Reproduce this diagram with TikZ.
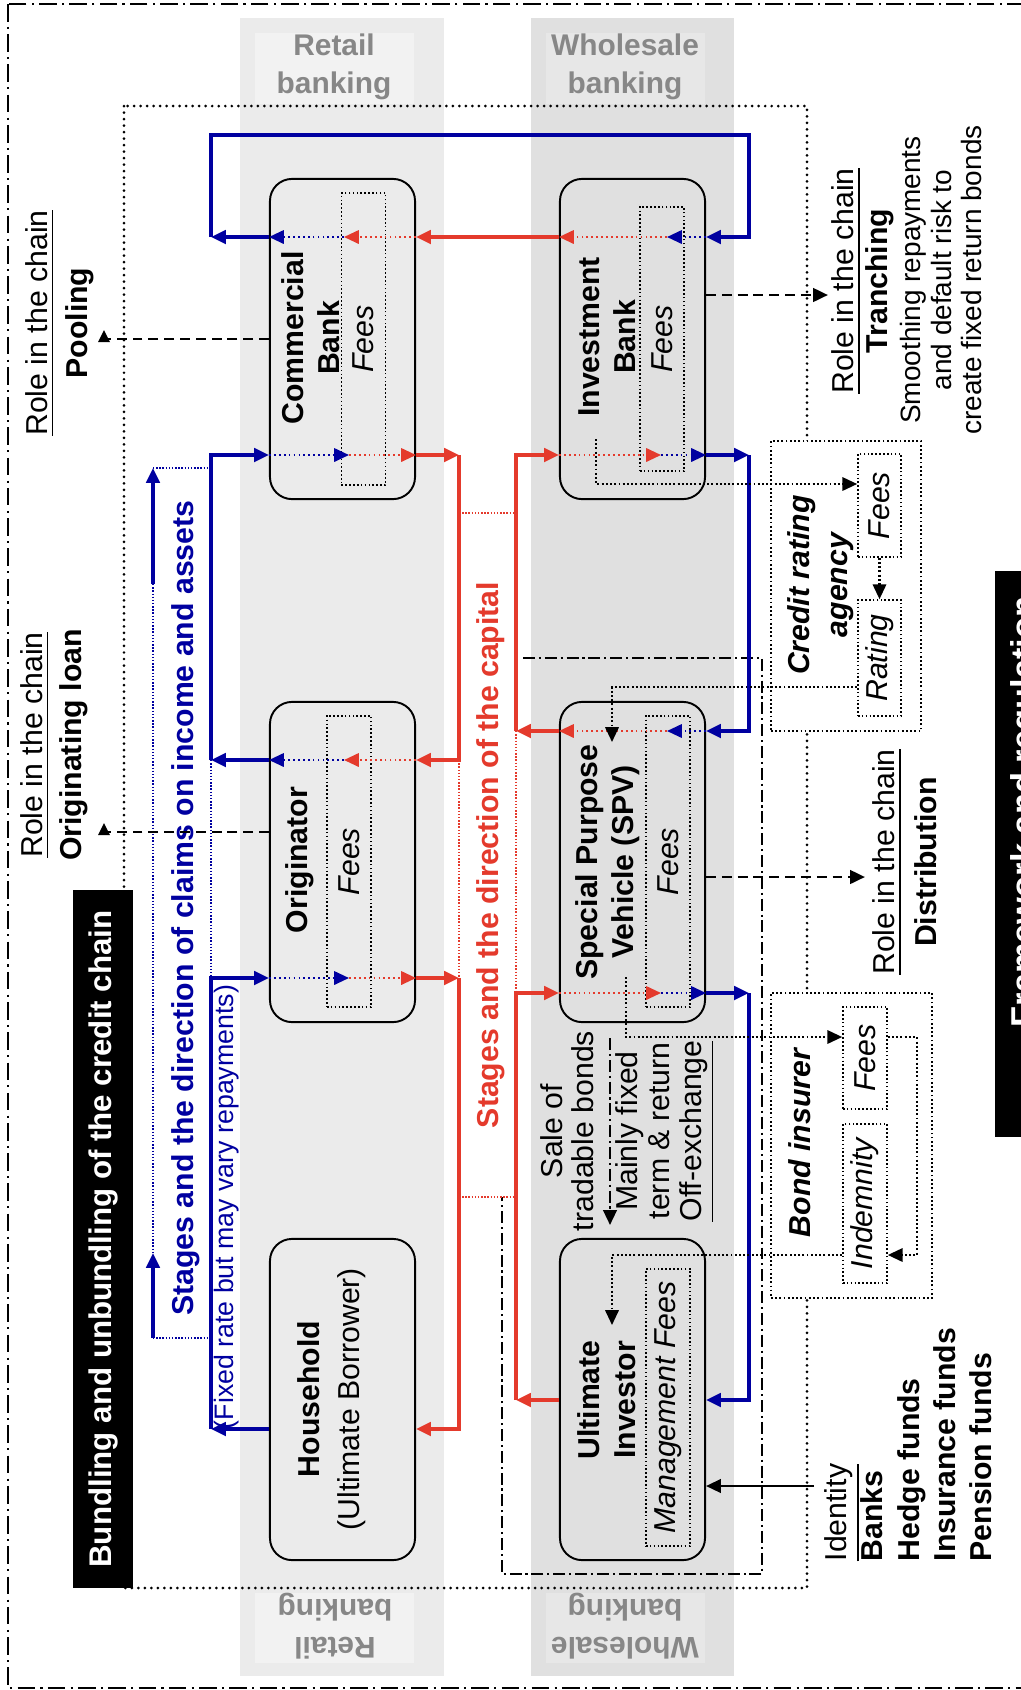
\documentclass[tikz,border=0pt]{standalone}
\usepackage{fontspec}
\setmainfont{Liberation Sans}
\usepackage{graphicx}
\usetikzlibrary{arrows.meta,calc}

\definecolor{capblue}{RGB}{0,0,160}
\definecolor{capred}{RGB}{228,58,44}
\definecolor{retailgray}{RGB}{235,235,235}
\definecolor{wholegray}{RGB}{224,224,224}
\definecolor{retaillab}{RGB}{242,242,242}
\definecolor{wholelab}{RGB}{231,231,231}
\definecolor{labtext}{RGB}{135,135,135}

\newcommand{\chainfont}{\fontsize{8.6}{10.2}\selectfont}

\tikzset{
  flowtip/.style={-{Triangle[length=4.2pt,width=3.8pt]}},
  bthick/.style={capblue, line width=1pt, flowtip},
  rthick/.style={capred, line width=1pt, flowtip},
  bdots/.style={capblue, line width=0.6pt, dash pattern=on 0.5pt off 0.9pt, flowtip},
  rdots/.style={capred, line width=0.6pt, dash pattern=on 0.5pt off 0.9pt, flowtip},
  bfine/.style={capblue, line width=0.4pt, dash pattern=on 0.4pt off 0.5pt},
  rfine/.style={capred, line width=0.4pt, dash pattern=on 0.4pt off 0.5pt},
  kdots/.style={line width=0.6pt, dash pattern=on 0.55pt off 0.65pt},
  roledash/.style={line width=0.8pt, dash pattern=on 2.8pt off 1.7pt},
  kdashdot/.style={line width=0.7pt, dash pattern=on 3.4pt off 1.1pt on 0.6pt off 1.1pt},
  bankbox/.style={draw, line width=0.55pt, rounded corners=0.22cm, minimum width=1.45cm, minimum height=3.2cm, inner sep=0pt},
  feebox/.style={draw, line width=0.45pt, dash pattern=on 0.45pt off 0.65pt, inner sep=0pt, minimum width=0.44cm, font=\chainfont\itshape},
  sidebox/.style={draw, fill=white, line width=0.5pt, dash pattern=on 0.5pt off 0.7pt, inner sep=0pt},
  rottext/.style={rotate=90, align=center, inner sep=0pt, font=\chainfont},
  lanelabel/.style={align=center, inner sep=0pt, text=labtext, font=\fontsize{8.5}{10.8}\selectfont\bfseries},
}

\begin{document}
\begin{tikzpicture}[x=0.01cm, y=-0.01cm]
    \useasboundingbox (0,0) rectangle (1021,1690);

    % 银行条带
    \fill[retailgray] (240,18) rectangle (444,1676);
    \fill[wholegray] (531,18) rectangle (734,1676);
    \fill[retaillab] (255,33) rectangle (414,104);
    \fill[wholelab] (546,33) rectangle (705,104);
    \fill[retaillab] (255,1593) rectangle (414,1663);
    \fill[wholelab] (546,1593) rectangle (705,1663);
    \node[lanelabel] (rtop) at (334,67) {Retail\\banking};
    \node[lanelabel] (wtop) at (625,67) {Wholesale\\banking};
    \node[lanelabel, rotate=180] (rbot) at (335,1626) {Retail\\banking};
    \node[lanelabel, rotate=180] (wbot) at (625,1626) {Wholesale\\banking};

    % 外框
    \draw[line width=0.5pt, dash pattern=on 5pt off 1.5pt on 0.6pt off 1.5pt] (8,4) rectangle (1040,1688);
    \draw[line width=0.85pt, line cap=round, dash pattern=on 0pt off 1.85pt] (124,106) rectangle (807,1588);

    % 黑色标题框
    \node[fill=black, rotate=90, minimum width=6.98cm, minimum height=0.6cm, inner sep=0pt, text=white,
          font=\fontsize{8.9}{10}\selectfont\bfseries] (bund) at (103,1239) {Bundling and unbundling of the credit chain};
    \fill (995,571) rectangle (1040,1137);
    \node[rottext, anchor=north, text=white, font=\fontsize{9.8}{12}\selectfont\bfseries] (regt) at (1010,812) {Framework and regulation};

    % 点划线框
    \draw[kdashdot] (523,658) -- (762,658) -- (762,1574) -- (502,1574) -- (502,1197);

    % 评级机构与债券保险
    \node[sidebox, minimum width=1.5cm, minimum height=2.9cm] (cra) at (846,586) {};
    \node[rottext, font=\fontsize{8.6}{10.8}\selectfont\bfseries\itshape] (crat) at (821,585) {Credit rating\\agency};
    \node[feebox, minimum width=0.43cm, minimum height=1.03cm] (craF) at (879.5,505.5) {\rotatebox{90}{Fees}};
    \node[feebox, minimum width=0.43cm, minimum height=1.16cm] (craR) at (879.5,658) {\rotatebox{90}{Rating}};
    \node[sidebox, minimum width=1.61cm, minimum height=3.05cm] (bi) at (851.5,1145.5) {};
    \node[rottext, font=\chainfont\bfseries\itshape] (bit) at (800,1143) {Bond insurer};
    \node[feebox, minimum height=1.02cm] (biF) at (865,1058) {\rotatebox{90}{Fees}};
    \node[feebox, minimum height=1.59cm] (biI) at (865,1203.5) {\rotatebox{90}{Indemnity}};

    % 机构框
    \node[bankbox] (cb) at (342.5,339) {};
    \node[bankbox] (ib) at (632.5,339) {};
    \node[bankbox] (orig) at (342.5,862) {};
    \node[bankbox] (spv) at (632.5,862) {};
    \node[bankbox, minimum height=3.21cm] (hh) at (342.5,1399.5) {};
    \node[bankbox, minimum height=3.21cm] (ui) at (632.5,1399.5) {};
    \node[feebox, minimum height=2.92cm] (cbF) at (363.5,339) {\rotatebox{90}{Fees}};
    \node[feebox, minimum height=2.64cm] (ibF) at (662,339) {\rotatebox{90}{Fees}};
    \node[feebox, minimum height=2.91cm] (orF) at (349,861.5) {\rotatebox{90}{Fees}};
    \node[feebox, minimum height=2.91cm] (spF) at (668,861.5) {\rotatebox{90}{Fees}};
    \node[feebox, minimum height=2.77cm] (uiF) at (668,1407.5) {\rotatebox{90}{Management Fees}};
    \node[rottext, font=\chainfont\bfseries] (cbt) at (311,338) {Commercial\\Bank};
    \node[rottext, font=\chainfont\bfseries] (ibt) at (607,337) {Investment\\Bank};
    \node[rottext, font=\chainfont\bfseries] (ort) at (300,860) {Originator};
    \node[rottext, font=\chainfont\bfseries] (spt) at (608,862) {Special Purpose\\Vehicle (SPV)};
    \node[rottext, font=\fontsize{8.6}{11.4}\selectfont] (hht) at (332,1399) {\textbf{Household}\\(Ultimate Borrower)};
    \node[rottext, font=\chainfont\bfseries] (uit) at (607,1400) {Ultimate\\Investor};

    % 轨道拐点
    \coordinate (bL1) at (211,135);  \coordinate (bR1) at (749,135);
    \coordinate (bL2) at (211,237);  \coordinate (bR2) at (749,237);
    \coordinate (bL3) at (211,455);  \coordinate (bR3) at (749,455);
    \coordinate (bL4) at (211,760);  \coordinate (bR4) at (749,731);
    \coordinate (bL5) at (211,978);  \coordinate (bR5) at (749,993);
    \coordinate (bL6) at (211,1429); \coordinate (bR6) at (749,1400);
    \coordinate (rA1) at (459,455);  \coordinate (rB1) at (516,455);
    \coordinate (rA2) at (459,760);  \coordinate (rB2) at (516,731);
    \coordinate (rA3) at (459,978);  \coordinate (rB3) at (516,993);
    \coordinate (rA4) at (459,1429); \coordinate (rB4) at (516,1400);

    % 蓝色: 收入与资产索取权
    \draw[bthick] (cb.west |- bL2) -- (bL2);
    \draw[bthick] (bL2) -- (bL1) -- (bR1) -- (bR2) -- (ib.east |- bR2);
    \draw[bthick] (orig.west |- bL4) -- (bL4);
    \draw[bthick] (bL4) -- (bL3) -- (cb.west |- bL3);
    \draw[bthick] (hh.west |- bL6) -- (bL6);
    \draw[bthick] (bL6) -- (bL5) -- (orig.west |- bL5);
    \draw[bthick] (ib.east |- bR3) -- (bR3);
    \draw[bthick] (bR3) -- (bR4) -- (spv.east |- bR4);
    \draw[bthick] (spv.east |- bR5) -- (bR5);
    \draw[bthick] (bR5) -- (bR6) -- (ui.east |- bR6);
    \draw[bfine] (bL4) -- (bL5);

    % 红色: 资本方向
    \draw[rthick] (ib.west |- bR2) -- (cb.east |- bR2);
    \draw[rthick] (cb.east |- rA1) -- (rA1);
    \draw[rthick] (rA1) -- (rA2) -- (orig.east |- rA2);
    \draw[rthick] (orig.east |- rA3) -- (rA3);
    \draw[rthick] (rA3) -- (rA4) -- (hh.east |- rA4);
    \draw[rthick] (spv.west |- rB2) -- (rB2);
    \draw[rthick] (rB2) -- (rB1) -- (ib.west |- rB1);
    \draw[rthick] (ui.west |- rB4) -- (rB4);
    \draw[rthick] (rB4) -- (rB3) -- (spv.west |- rB3);
    \draw[rfine] (rA2) -- (rA3);
    \draw[rfine] (rB2) -- (rB3);

    % 框内虚线箭头
    \foreach \bx/\r in {cb/bL2, orig/bL4} {
        \draw[rdots] (\bx.east |- \r) -- ($(\bx.west |- \r)+(75,0)$);
        \draw[bdots] ($(\bx.west |- \r)+(75,0)$) -- (\bx.west |- \r);
    }
    \foreach \bx/\r in {cb/bL3, orig/bL5} {
        \draw[bdots] (\bx.west |- \r) -- ($(\bx.west |- \r)+(80,0)$);
        \draw[rdots] ($(\bx.west |- \r)+(80,0)$) -- (\bx.east |- \r);
    }
    \foreach \bx/\r in {ib/bR2, spv/bR4} {
        \draw[bdots] (\bx.east |- \r) -- ($(\bx.east |- \r)+(-39,0)$);
        \draw[rdots] ($(\bx.east |- \r)+(-39,0)$) -- (\bx.west |- \r);
    }
    \foreach \bx/\r in {ib/bR3, spv/bR5} {
        \draw[rdots] (\bx.west |- \r) -- ($(\bx.east |- \r)+(-45,0)$);
        \draw[bdots] ($(\bx.east |- \r)+(-45,0)$) -- (\bx.east |- \r);
    }

    % 两条方向说明
    \coordinate (cA) at (153,468);  \coordinate (cB) at (153,584);
    \coordinate (cC) at (153,1253); \coordinate (cD) at (153,1338);
    \draw[bthick] (cB) -- (cA);
    \draw[bthick] (cD) -- (cC);
    \draw[bfine] (cA) -- (bL3 |- cA);
    \draw[bfine] (cB) -- (cC);
    \draw[bfine] (cD) -- (bL6 |- cD);
    \node[rottext, font=\chainfont\bfseries, text=capblue] (clmt) at (186,908) {Stages and the direction of claims on income and assets};
    \node[rottext, font=\fontsize{7.6}{9}\selectfont, text=capblue] (fixt) at (227,1207) {(Fixed rate but may vary repayments)};
    \coordinate (capT) at (459,513); \coordinate (capB) at (459,1197);
    \draw[rfine] (capT) -- (rB1 |- capT);
    \draw[rfine] (capB) -- (rB1 |- capB);
    \node[rottext, font=\chainfont\bfseries, text=capred] (capt) at (491,855) {Stages and the direction of the capital};

    % 评级与保险的点线
    \coordinate (ibo) at (596,439);
    \coordinate (spvin) at (612,742);
    \coordinate (spvo) at (626,977);
    \coordinate (uiin) at (612,1325);
    \draw[kdots, flowtip] (ibo) |- (craF.west |- 0,484);
    \draw[kdots, flowtip] (craF) -- (craR);
    \draw[kdots, flowtip] (craR.west |- 0,687) -| (spvin);
    \draw[kdots, flowtip] (spvo) |- (biF.west |- 0,1037);
    \draw[kdots, flowtip] (biF.east |- 0,1037) -- (917,1037) |- (biI.east |- 0,1255);
    \draw[kdots, flowtip] (biI.west |- 0,1255) -| (uiin);

    % 债券出售
    \node[rottext, font=\fontsize{8.6}{8.8}\selectfont] (salet) at (567.5,1131) {Sale of\\tradable bonds};
    \coordinate (saleA) at (610,1038); \coordinate (saleB) at (610,1225);
    \draw[kdashdot, flowtip] (saleA) -- (saleB);
    \node[rottext, font=\fontsize{8.6}{9.1}\selectfont] (mainl) at (665,1131) {Mainly fixed\\term \& return\\\underline{Off-exchange}};

    % 链中角色
    \node[rottext, font=\fontsize{8.6}{11.5}\selectfont] (poolt) at (60,323) {\underline{Role in the chain}\\\textbf{Pooling}};
    \coordinate (pool) at (104,339);
    \draw[roledash] (cb.west |- pool) -- (pool);
    \fill (pool) ++(-6,3) -- ++(12,0) -- ++(-6,-12) -- cycle;
    \node[rottext, font=\fontsize{8.6}{11}\selectfont] (orgt) at (54,745) {\underline{Role in the chain}\\\textbf{Originating loan}};
    \coordinate (orgl) at (104,832);
    \draw[roledash] (orig.west |- orgl) -- (orgl);
    \fill (orgl) ++(-6,3) -- ++(12,0) -- ++(-6,-12) -- cycle;
    \node[rottext, font=\fontsize{8.6}{9.7}\selectfont] (trant) at (863,281) {\underline{Role in the chain}\\\textbf{Tranching}};
    \node[rottext, font=\fontsize{7.95}{8.7}\selectfont] (trand) at (941,280) {Smoothing repayments\\and default risk to\\create fixed return bonds};
    \coordinate (tran) at (828,295);
    \draw[roledash, flowtip] (ib.east |- tran) -- (tran);
    \node[rottext, font=\fontsize{8.6}{12}\selectfont] (distt) at (905,862) {\underline{Role in the chain}\\\textbf{Distribution}};
    \coordinate (dist) at (865,877);
    \draw[roledash, flowtip] (spv.east |- dist) -- (dist);

    % 投资者身份
    \node[rottext, anchor=north west, align=left, font=\fontsize{8.6}{10.3}\selectfont] (idt) at (824,1562)
        {\underline{Identity}\\\textbf{Banks}\\\textbf{Hedge funds}\\\textbf{Insurance funds}\\\textbf{Pension funds}};
    \coordinate (ident) at (814,1486);
    \draw[line width=0.7pt, flowtip] (ident) -- (ui.east |- ident);
\end{tikzpicture}
\end{document}
